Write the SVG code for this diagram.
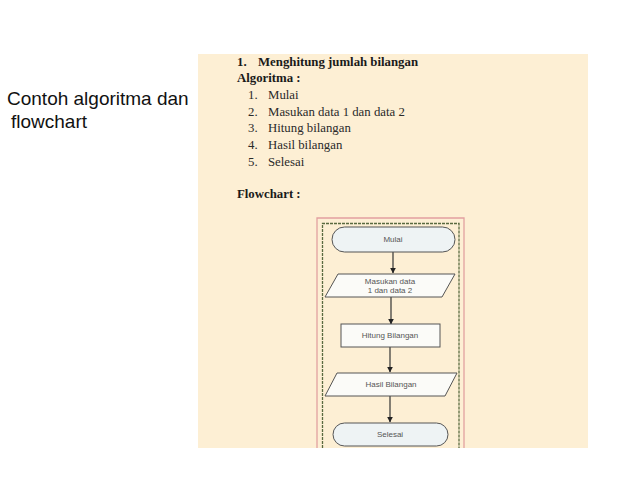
<svg xmlns="http://www.w3.org/2000/svg" width="638" height="479" viewBox="0 0 638 479">
<style>
.title{font-family:"Liberation Sans",Arial,sans-serif;font-size:19px;fill:#111}
.serif{font-family:"Liberation Serif","Times New Roman",serif;font-size:12.8px;fill:#2a2a2a}
.b{font-weight:bold;fill:#1a1a1a}
.fc{font-family:"Liberation Sans",Arial,sans-serif;font-size:8px;fill:#555;text-anchor:middle}
.term{fill:#eef3f4;stroke:#555;stroke-width:1}
.shape{fill:#fbfbf8;stroke:#555;stroke-width:1}
.conn{stroke:#333;stroke-width:1.2;fill:none}
</style>
<defs>
<marker id="ah" viewBox="0 0 10 10" refX="9" refY="5" markerWidth="5" markerHeight="5" orient="auto">
<path d="M0,0 L10,5 L0,10 z" fill="#222"/>
</marker>
</defs>
<rect width="638" height="479" fill="#ffffff"/>
<text class="title" x="7" y="105">Contoh algoritma dan</text>
<text class="title" x="11" y="128">flowchart</text>
<rect x="198" y="54" width="390" height="394" fill="#fdefd4"/>
<g id="text-block">
<text class="serif b" x="237" y="66">1.</text>
<text class="serif b" x="258" y="66">Menghitung jumlah bilangan</text>
<text class="serif b" x="237" y="82">Algoritma :</text>
<text class="serif" x="248" y="99">1.</text><text class="serif" x="268" y="99">Mulai</text>
<text class="serif" x="248" y="116">2.</text><text class="serif" x="268" y="116">Masukan data 1 dan data 2</text>
<text class="serif" x="248" y="132">3.</text><text class="serif" x="268" y="132">Hitung bilangan</text>
<text class="serif" x="248" y="149">4.</text><text class="serif" x="268" y="149">Hasil bilangan</text>
<text class="serif" x="248" y="166">5.</text><text class="serif" x="268" y="166">Selesai</text>
<text class="serif b" x="237" y="198">Flowchart :</text>
</g>
<g id="frame">
<path d="M317,448 V218 H464 V448" fill="none" stroke="#e2a0a0" stroke-width="1.3"/>
<path d="M322.5,448 V223.5 H459 V448" fill="none" stroke="#5a6a40" stroke-width="1.3" stroke-dasharray="3,1"/>
</g>
<g id="connectors">
<line class="conn" x1="393" y1="252" x2="393" y2="273" marker-end="url(#ah)"/>
<line class="conn" x1="391" y1="297" x2="391" y2="324" marker-end="url(#ah)"/>
<line class="conn" x1="390" y1="347" x2="390" y2="372" marker-end="url(#ah)"/>
<line class="conn" x1="390" y1="396" x2="390" y2="422" marker-end="url(#ah)"/>
</g>
<g id="mulai">
<rect class="term" x="332" y="227" width="123" height="25" rx="12.5"/>
<text class="fc" x="393" y="242">Mulai</text>
</g>
<g id="masukan">
<polygon class="shape" points="338,274 455,274 442,297 325,297"/>
<text class="fc" x="390" y="284">Masukan data</text>
<text class="fc" x="390" y="293">1 dan data 2</text>
</g>
<g id="hitung">
<rect class="shape" x="341" y="324" width="99" height="23"/>
<text class="fc" x="390" y="338">Hitung Bilangan</text>
</g>
<g id="hasil">
<polygon class="shape" points="337,373 457,373 445,396 325,396"/>
<text class="fc" x="391" y="387">Hasil Bilangan</text>
</g>
<g id="selesai">
<rect class="term" x="333" y="423" width="115" height="23" rx="11.5"/>
<text class="fc" x="390" y="437">Selesai</text>
</g>
</svg>
